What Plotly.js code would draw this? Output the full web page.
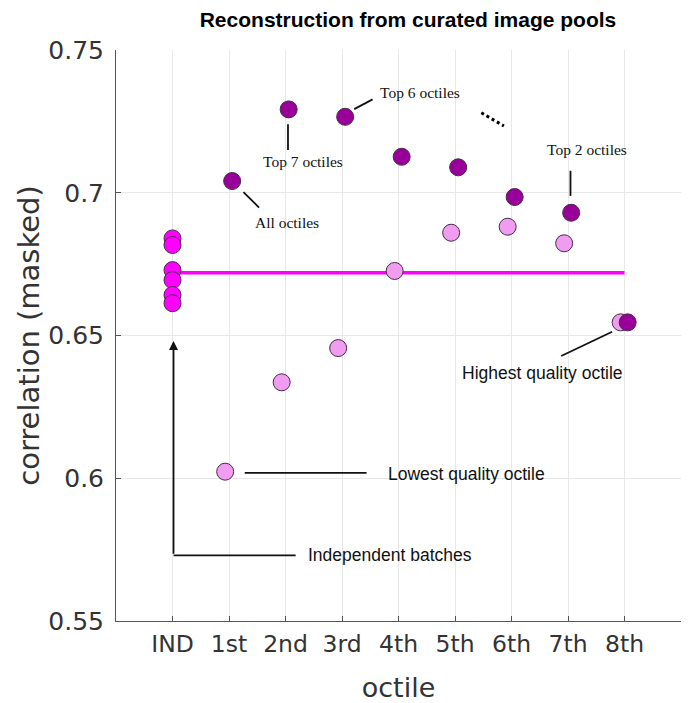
<!DOCTYPE html>
<html>
<head>
<meta charset="utf-8">
<script src="https://cdn.plot.ly/plotly-3.0.1.min.js"></script>
<style>
  html, body { margin: 0; padding: 0; background: #fff; }
  #plot { width: 692px; height: 703px; }
</style>
</head>
<body>
<div id="plot"></div>
<script>
// octile categories on the x axis
let octiles = ["IND", "1st", "2nd", "3rd", "4th", "5th", "6th", "7th", "8th"];

// independent batches (all at IND) and their mean
let indBatches = [0.6840, 0.6817, 0.6729, 0.6694, 0.6642, 0.6613];
let indMean = 0.672;

// single octile pools (1st .. 8th)
let singleOctile = [0.6023, 0.6336, 0.6456, 0.6726, 0.6860, 0.6881, 0.6823, 0.6546];

// cumulative pools: all octiles, top 7, top 6 ... highest octile
let cumulativeOctiles = [0.7041, 0.7292, 0.7266, 0.7126, 0.7089, 0.6985, 0.6930, 0.6546];

let pinkShift = -0.068;
let purpleShift = 0.056;
let edge = "#4a2a4a";

// positions of the octile columns (IND = 0)
let octIdx = singleOctile.map((v, i) => i + 1);

let meanTrace = {
  x: [0, octiles.length - 1],
  y: [indMean, indMean],
  mode: "lines",
  line: {color: "#ff00ff", width: 3.5},
  hoverinfo: "skip"
};

let indTrace = {
  x: indBatches.map(() => 0),
  y: indBatches,
  mode: "markers",
  marker: {size: 17, color: "#ff00ff", line: {color: edge, width: 1}}
};

let singleTrace = {
  x: octIdx.map(x => x + pinkShift),
  y: singleOctile,
  mode: "markers",
  marker: {size: 17, color: "#f09cf0", line: {color: edge, width: 1}}
};

let cumTrace = {
  x: octIdx.map(x => x + purpleShift),
  y: cumulativeOctiles,
  mode: "markers",
  marker: {size: 17, color: "#990099", line: {color: edge, width: 1}}
};

let serif = {family: "Liberation Serif, Times New Roman, serif", size: 15.5, color: "#111"};
let sans = {family: "Liberation Sans, Arial, sans-serif", size: 17.5, color: "#111"};

function note(text, x, y, font) {
  return {text: text, x: x, y: y, xref: "x", yref: "y", showarrow: false, font: font};
}

function seg(x0, y0, x1, y1, extra) {
  return Object.assign({
    type: "line", xref: "x", yref: "y", x0: x0, y0: y0, x1: x1, y1: y1,
    line: {color: "#111", width: 1.8}
  }, extra || {});
}

let layout = {
  width: 692,
  height: 703,
  showlegend: false,
  paper_bgcolor: "#fff",
  plot_bgcolor: "#fff",
  margin: {l: 116, r: 11, t: 50, b: 82},
  title: {
    text: "<b>Reconstruction from curated image pools</b>",
    font: {family: "Liberation Sans, Arial, sans-serif", size: 21, color: "#000"},
    x: 408 / 692, xanchor: "center", xref: "container",
    y: 1 - 20 / 703, yref: "container", yanchor: "middle"
  },
  xaxis: {
    range: [-1, 9],
    tickvals: octiles.map((o, i) => i),
    ticktext: octiles,
    tickfont: {family: "DejaVu Sans", size: 23.5, color: "#333"},
    title: {text: "octile", font: {family: "DejaVu Sans", size: 27, color: "#333"}, standoff: 20},
    showgrid: true, gridcolor: "#e8e8e8",
    zeroline: false,
    showline: true, linecolor: "#555", linewidth: 1,
    ticks: "inside", ticklen: 5, tickcolor: "#555",
    ticklabelstandoff: 2
  },
  yaxis: {
    range: [0.55, 0.75],
    tickvals: [0.55, 0.6, 0.65, 0.7, 0.75],
    ticktext: ["0.55", "0.6", "0.65", "0.7", "0.75"],
    tickfont: {family: "DejaVu Sans", size: 25, color: "#333"},
    title: {text: "correlation (masked)", font: {family: "DejaVu Sans", size: 29, color: "#333"}},
    showgrid: true, gridcolor: "#e8e8e8",
    zeroline: false,
    showline: true, linecolor: "#555", linewidth: 1,
    ticks: "inside", ticklen: 5, tickcolor: "#555",
    ticklabelstandoff: 6
  },
  annotations: [
    note("Top 7 octiles", 2.31, 0.7108, serif),
    note("All octiles", 2.035, 0.6895, serif),
    note("Top 6 octiles", 4.376, 0.7350, serif),
    note("Top 2 octiles", 7.336, 0.7150, serif),
    note("Highest quality octile", 6.541, 0.6368, sans),
    note("Lowest quality octile", 5.201, 0.6015, sans),
    note("Independent batches", 3.855, 0.5730, sans),
    {
      text: "", x: 0.018, y: 0.6481, xref: "x", yref: "y",
      ax: 0.018, ay: 0.5730, axref: "x", ayref: "y",
      showarrow: true, arrowhead: 2, arrowsize: 1, arrowwidth: 1.8, arrowcolor: "#111"
    }
  ],
  shapes: [
    seg(2.044, 0.7240, 2.044, 0.7150),
    seg(1.256, 0.7002, 1.532, 0.6948),
    seg(3.216, 0.7293, 3.541, 0.7327),
    seg(7.044, 0.7077, 7.044, 0.6989),
    seg(6.880, 0.6428, 7.781, 0.6513),
    seg(1.279, 0.6019, 3.435, 0.6019),
    seg(0.018, 0.5730, 2.18, 0.5730),
    seg(5.466, 0.7280, 5.866, 0.7234, {line: {color: "#000", width: 3, dash: "dot"}})
  ]
};

Plotly.newPlot("plot", [meanTrace, indTrace, singleTrace, cumTrace], layout, {displayModeBar: false});
</script>
</body>
</html>
